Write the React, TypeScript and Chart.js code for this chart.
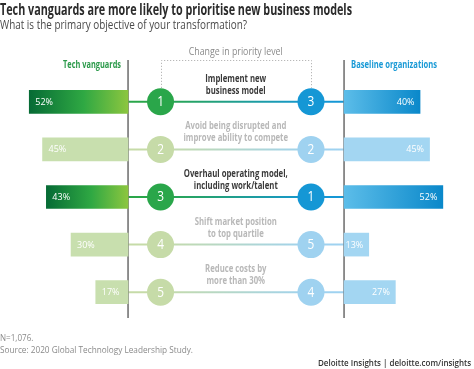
import React, { useEffect, useLayoutEffect, useRef } from "react";
import { Chart, registerables } from "chart.js";

Chart.register(...registerables);

// ---------- data ----------
const objectives: string[] = [
  "Implement new business model",
  "Avoid being disrupted and improve ability to compete",
  "Overhaul operating model, including work/talent",
  "Shift market position to top quartile",
  "Reduce costs by more than 30%",
];
const objectiveLines: string[][] = [
  ["Implement new", "business model"],
  ["Avoid being disrupted and", "improve ability to compete"],
  ["Overhaul operating model,", "including work/talent"],
  ["Shift market position", "to top quartile"],
  ["Reduce costs by", "more than 30%"],
];
const vanguardShare: number[] = [52, 45, 43, 30, 17];
const baselineShare: number[] = [40, 45, 52, 13, 27];
const vanguardRank: number[] = [1, 2, 3, 4, 5];
const baselineRank: number[] = [3, 2, 1, 5, 4];
const highlighted: boolean[] = [true, false, true, false, false];

const TITLE = "Tech vanguards are more likely to prioritise new business models";
const SUBTITLE = "What is the primary objective of your transformation?";
const LEFT_HEADER = "Tech vanguards";
const RIGHT_HEADER = "Baseline organizations";
const MID_HEADER = "Change in priority level";
const NOTE = "N=1,076.";
const SOURCE = "Source: 2020 Global Technology Leadership Study.";
const BRAND = "Deloitte Insights | deloitte.com/insights";

// ---------- layout (in axis units, 1 unit = 1 percentage point) ----------
const X_MIN = -67.4;
const X_MAX = 182.1;
const RIGHT_BASE = 113.7;
const LEFT_DOT = 17.1;
const RIGHT_DOT = 96.3;

const C = {
  greenDark: "#066b35",
  greenMid: "#2fa843",
  greenLight: "#8cc63f",
  greenFaded: "#c8dfae",
  greenDot: "#2aa64a",
  greenDotFaded: "#c6dba8",
  blueLight: "#5cbde9",
  blueDark: "#0a88ca",
  blueFaded: "#a3d6f2",
  blueDot: "#1597d5",
  blueDotFaded: "#9fd2f0",
  axis: "#6b6b6b",
  textDark: "#3a3a3a",
  textFaded: "#b8b8b8",
};

const FONT = '"Open Sans", "Noto Sans", sans-serif';

function drawText(
  ctx: CanvasRenderingContext2D,
  s: string,
  x: number,
  y: number,
  font: string,
  color: string,
  align: CanvasTextAlign,
  sx = 1
) {
  ctx.save();
  ctx.font = font;
  ctx.fillStyle = color;
  ctx.textAlign = align;
  ctx.textBaseline = "middle";
  ctx.translate(x, y);
  ctx.scale(sx, 1);
  ctx.fillText(s, 0, 0);
  ctx.restore();
}

function fitScale(ctx: CanvasRenderingContext2D, s: string, font: string, target: number) {
  ctx.save();
  ctx.font = font;
  const w = ctx.measureText(s).width;
  ctx.restore();
  return w > 0 ? target / w : 1;
}

const decorPlugin = {
  id: "decor",
  beforeDatasetsDraw(chart: any) {
    const ctx: CanvasRenderingContext2D = chart.ctx;
    const xs = chart.scales.x;
    const ys = chart.scales.y;
    const area = chart.chartArea;
    const xL = xs.getPixelForValue(0);
    const xR = xs.getPixelForValue(RIGHT_BASE);
    const dL = xs.getPixelForValue(LEFT_DOT);
    const dR = xs.getPixelForValue(RIGHT_DOT);
    const top = area.top - 18;
    const bottom = area.bottom + 2;

    // connecting lines
    objectives.forEach((_, i) => {
      const y = ys.getPixelForValue(i);
      const g = ctx.createLinearGradient(xL, 0, xR, 0);
      const hl = highlighted[i];
      const cg = hl ? C.greenDot : C.greenDotFaded;
      const cb = hl ? C.blueDot : C.blueDotFaded;
      const span = xR - xL;
      g.addColorStop(0, cg);
      g.addColorStop((dL - xL) / span, cg);
      g.addColorStop((dR - xL) / span, cb);
      g.addColorStop(1, cb);
      ctx.save();
      ctx.strokeStyle = g;
      ctx.lineWidth = 2;
      ctx.beginPath();
      ctx.moveTo(xL, y);
      ctx.lineTo(xR, y);
      ctx.stroke();
      ctx.restore();
    });

    // axis lines
    ctx.save();
    ctx.strokeStyle = C.axis;
    ctx.lineWidth = 1.5;
    ctx.beginPath();
    ctx.moveTo(xL, top);
    ctx.lineTo(xL, bottom);
    ctx.moveTo(xR, top);
    ctx.lineTo(xR, bottom);
    ctx.stroke();
    ctx.restore();

    // dotted bracket
    const y0 = ys.getPixelForValue(0) - 14;
    ctx.save();
    ctx.strokeStyle = "#a8a8a8";
    ctx.lineWidth = 1;
    ctx.setLineDash([1, 2]);
    ctx.beginPath();
    ctx.moveTo(Math.round(dL) + 0.5, y0);
    ctx.lineTo(Math.round(dL) + 0.5, top + 0.5);
    ctx.lineTo(Math.round(dR) + 0.5, top + 0.5);
    ctx.lineTo(Math.round(dR) + 0.5, y0);
    ctx.stroke();
    ctx.restore();
  },
  afterDatasetsDraw(chart: any) {
    const ctx: CanvasRenderingContext2D = chart.ctx;
    const xs = chart.scales.x;
    const ys = chart.scales.y;
    const area = chart.chartArea;
    const xL = xs.getPixelForValue(0);
    const xR = xs.getPixelForValue(RIGHT_BASE);
    const dL = xs.getPixelForValue(LEFT_DOT);
    const dR = xs.getPixelForValue(RIGHT_DOT);
    const mid = (dL + dR) / 2;

    // headers
    const hFont = `bold 11px ${FONT}`;
    drawText(ctx, LEFT_HEADER, xL - 7, area.top - 13, hFont, "#2b9a4a", "right", fitScale(ctx, LEFT_HEADER, hFont, 58));
    drawText(ctx, RIGHT_HEADER, xR + 7, area.top - 13, hFont, "#1a9ad6", "left", fitScale(ctx, RIGHT_HEADER, hFont, 86));
    const mFont = `10px ${FONT}`;
    drawText(ctx, MID_HEADER, mid, area.top - 26, mFont, "#8a8a8a", "center", fitScale(ctx, MID_HEADER, mFont, 94));

    const lFont = `bold 10.5px ${FONT}`;
    const lScale = fitScale(ctx, "Overhaul operating model,", lFont, 104);
    const pFont = `9px ${FONT}`;
    const nFont = `14px ${FONT}`;

    objectives.forEach((_, i) => {
      const y = ys.getPixelForValue(i);
      const hl = highlighted[i];
      // row labels
      const lines = objectiveLines[i];
      drawText(ctx, lines[0], mid, y - 23, lFont, hl ? C.textDark : C.textFaded, "center", lScale);
      drawText(ctx, lines[1], mid, y - 11, lFont, hl ? C.textDark : C.textFaded, "center", lScale);
      // percentages
      drawText(ctx, vanguardShare[i] + "%", xs.getPixelForValue(-vanguardShare[i]) + 6, y + 0.5, pFont, "#ffffff", "left");
      drawText(ctx, baselineShare[i] + "%", xs.getPixelForValue(RIGHT_BASE + baselineShare[i]) - 5.5, y + 0.5, pFont, "#ffffff", "right");
      // ranks
      drawText(ctx, String(vanguardRank[i]), dL, y + 0.5, nFont, "#ffffff", "center", 0.85);
      drawText(ctx, String(baselineRank[i]), dR, y + 0.5, nFont, "#ffffff", "center", 0.85);
    });
  },
};

function leftColor(c: any) {
  const i = c.dataIndex;
  if (!highlighted[i]) return C.greenFaded;
  const chart = c.chart;
  const xs = chart.scales?.x;
  if (!xs || !chart.chartArea) return C.greenMid;
  const x0 = xs.getPixelForValue(-vanguardShare[i]);
  const x1 = xs.getPixelForValue(0);
  const g = chart.ctx.createLinearGradient(x0, 0, x1, 0);
  g.addColorStop(0, C.greenDark);
  g.addColorStop(0.55, C.greenMid);
  g.addColorStop(1, C.greenLight);
  return g;
}

function rightColor(c: any) {
  const i = c.dataIndex;
  if (!highlighted[i]) return C.blueFaded;
  const chart = c.chart;
  const xs = chart.scales?.x;
  if (!xs || !chart.chartArea) return C.blueDot;
  const x0 = xs.getPixelForValue(RIGHT_BASE);
  const x1 = xs.getPixelForValue(RIGHT_BASE + baselineShare[i]);
  const g = chart.ctx.createLinearGradient(x0, 0, x1, 0);
  g.addColorStop(0, C.blueLight);
  g.addColorStop(1, C.blueDark);
  return g;
}

function Fit({ text, width, style }: { text: string; width: number; style: React.CSSProperties }) {
  const ref = useRef<HTMLSpanElement>(null);
  useLayoutEffect(() => {
    const el = ref.current;
    if (!el) return;
    el.style.transform = "none";
    const w = el.offsetWidth;
    if (w > 0) el.style.transform = `scaleX(${width / w})`;
  }, [text, width]);
  return (
    <span
      ref={ref}
      style={{
        position: "absolute",
        whiteSpace: "nowrap",
        transformOrigin: "left top",
        lineHeight: 1,
        fontFamily: FONT,
        ...style,
      }}
    >
      {text}
    </span>
  );
}

export default function App() {
  const canvasRef = useRef<HTMLCanvasElement>(null);

  useEffect(() => {
    const canvas = canvasRef.current;
    if (!canvas) return;
    const chart = new Chart(canvas, {
      type: "bar",
      data: {
        labels: objectives,
        datasets: [
          {
            type: "bar",
            label: "Tech vanguards",
            data: vanguardShare.map((v) => [-v, 0]) as any,
            backgroundColor: leftColor as any,
            borderWidth: 0,
            barThickness: 23,
            grouped: false,
          } as any,
          {
            type: "bar",
            label: "Baseline organizations",
            data: baselineShare.map((v) => [RIGHT_BASE, RIGHT_BASE + v]) as any,
            backgroundColor: rightColor as any,
            borderWidth: 0,
            barThickness: 23,
            grouped: false,
          } as any,
          {
            type: "line",
            label: "Vanguard rank",
            data: vanguardRank.map(() => LEFT_DOT),
            showLine: false,
            pointRadius: 13.5,
            pointHoverRadius: 13.5,
            pointBorderWidth: 0,
            pointBackgroundColor: highlighted.map((h) => (h ? C.greenDot : C.greenDotFaded)),
            pointBorderColor: "transparent",
          } as any,
          {
            type: "line",
            label: "Baseline rank",
            data: baselineRank.map(() => RIGHT_DOT),
            showLine: false,
            pointRadius: 13.5,
            pointHoverRadius: 13.5,
            pointBorderWidth: 0,
            pointBackgroundColor: highlighted.map((h) => (h ? C.blueDot : C.blueDotFaded)),
            pointBorderColor: "transparent",
          } as any,
        ],
      },
      options: {
        indexAxis: "y",
        animation: false,
        responsive: false,
        maintainAspectRatio: false,
        events: [],
        layout: { autoPadding: false, padding: { top: 78, bottom: 53, left: 0, right: 0 } },
        plugins: {
          legend: { display: false },
          tooltip: { enabled: false },
          title: { display: false },
        },
        scales: {
          x: { type: "linear", min: X_MIN, max: X_MAX, display: false },
          y: { type: "category", display: false, offset: true },
        },
      } as any,
      plugins: [decorPlugin],
    });
    return () => chart.destroy();
  }, []);

  return (
    <div
      style={{
        position: "fixed",
        left: 0,
        top: 0,
        width: 474,
        height: 369,
        background: "#ffffff",
        overflow: "hidden",
      }}
    >
      <canvas
        ref={canvasRef}
        width={474}
        height={369}
        style={{ position: "absolute", left: 0, top: 0, width: 474, height: 369 }}
      />
      <Fit text={TITLE} width={352} style={{ left: 0, top: 1, fontSize: 16, fontWeight: 700, color: "#2b2b2b" }} />
      <Fit text={SUBTITLE} width={247} style={{ left: 0, top: 19, fontSize: 12, color: "#4a4a4a" }} />
      <Fit text={NOTE} width={33} style={{ left: 0, top: 332.5, fontSize: 9.3, color: "#8a8a8a" }} />
      <Fit text={SOURCE} width={193} style={{ left: 0, top: 344.5, fontSize: 9.3, color: "#8a8a8a" }} />
      <Fit text={BRAND} width={153} style={{ left: 318, top: 358, fontSize: 9.3, fontWeight: 600, color: "#333333" }} />
    </div>
  );
}
